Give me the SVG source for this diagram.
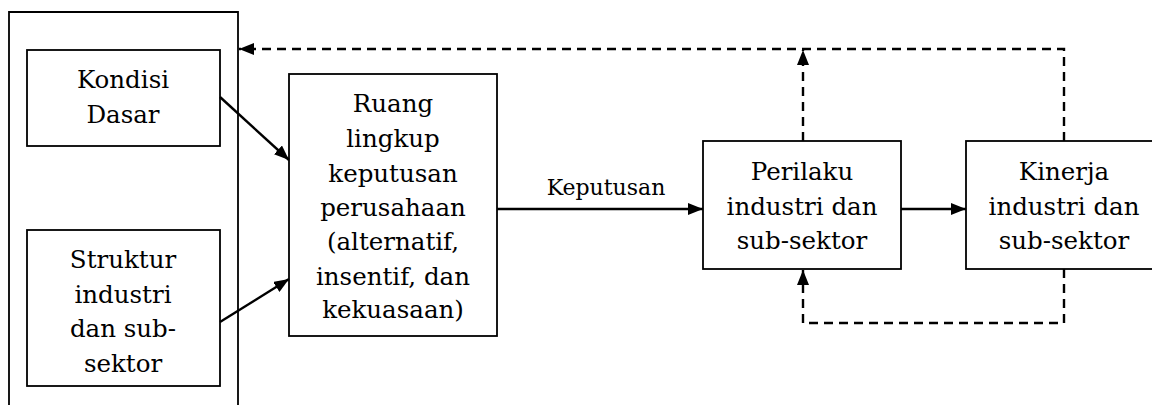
<svg xmlns="http://www.w3.org/2000/svg" width="1152" height="405" viewBox="0 0 1152 405">
<style>
.box{fill:#fff;stroke:#000;stroke-width:1.8}
.t{font-family:"DejaVu Serif","Liberation Serif",serif;font-size:24.5px;fill:#000;text-anchor:middle}
.lbl{font-family:"DejaVu Serif","Liberation Serif",serif;font-size:22px;fill:#000;text-anchor:middle}
.solid{fill:none;stroke:#000;stroke-width:2.4}
.dash{fill:none;stroke:#000;stroke-width:2.4;stroke-dasharray:9 6}
</style>
<defs>
<marker id="ah" viewBox="0 0 15 12" refX="15" refY="6" markerWidth="15" markerHeight="12" markerUnits="userSpaceOnUse" orient="auto">
<path d="M0,0 L15,6 L0,12 Z" fill="#000"/>
</marker>
</defs>
<rect width="1152" height="405" fill="#fff"/>
<g id="container">
<path d="M9,420 L9,12 L238,12 L238,420" class="box" fill="none"/>
</g>
<g id="kondisi">
<rect x="27" y="50" width="193" height="96" class="box"/>
<text class="t" x="123" y="88">Kondisi</text>
<text class="t" x="123" y="123">Dasar</text>
</g>
<g id="struktur">
<rect x="27" y="230" width="193" height="156" class="box"/>
<text class="t" x="123" y="268">Struktur</text>
<text class="t" x="123" y="303">industri</text>
<text class="t" x="123" y="337">dan sub-</text>
<text class="t" x="123" y="372">sektor</text>
</g>
<g id="ruang">
<rect x="289" y="74" width="208" height="262" class="box"/>
<text class="t" x="393" y="112">Ruang</text>
<text class="t" x="393" y="147">lingkup</text>
<text class="t" x="393" y="182">keputusan</text>
<text class="t" x="393" y="216">perusahaan</text>
<text class="t" x="393" y="250">(alternatif,</text>
<text class="t" x="393" y="285">insentif, dan</text>
<text class="t" x="393" y="318">kekuasaan)</text>
</g>
<g id="perilaku">
<rect x="703" y="141" width="198" height="128" class="box"/>
<text class="t" x="802" y="180">Perilaku</text>
<text class="t" x="802" y="215">industri dan</text>
<text class="t" x="802" y="249">sub-sektor</text>
</g>
<g id="kinerja">
<rect x="966" y="141" width="200" height="128" class="box"/>
<text class="t" x="1064" y="180">Kinerja</text>
<text class="t" x="1064" y="215">industri dan</text>
<text class="t" x="1064" y="249">sub-sektor</text>
</g>
<g id="connectors">
<line class="solid" x1="220" y1="97" x2="289" y2="160" marker-end="url(#ah)"/>
<line class="solid" x1="220" y1="322" x2="289" y2="279" marker-end="url(#ah)"/>
<line class="solid" x1="497" y1="209" x2="703" y2="209" marker-end="url(#ah)"/>
<text class="lbl" x="606" y="195">Keputusan</text>
<line class="solid" x1="901" y1="209" x2="966" y2="209" marker-end="url(#ah)"/>
<polyline class="dash" points="1064,141 1064,49 239,49" marker-end="url(#ah)"/>
<line class="dash" x1="803" y1="141" x2="803" y2="50" marker-end="url(#ah)"/>
<polyline class="dash" points="1064,269 1064,323 803,323 803,270" marker-end="url(#ah)"/>
</g>
</svg>
